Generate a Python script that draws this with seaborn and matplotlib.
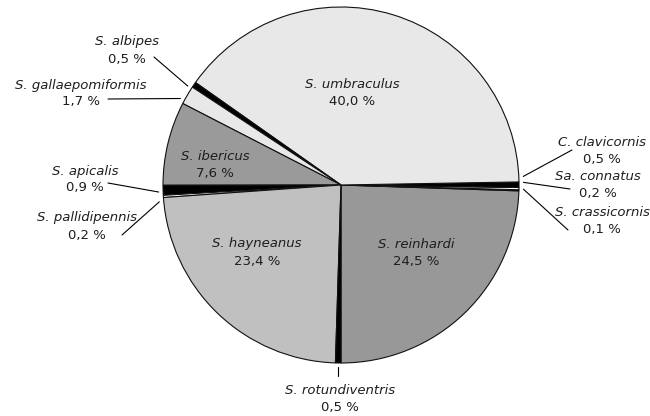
import numpy as np
import matplotlib
matplotlib.use("Agg")
import matplotlib.pyplot as plt
import seaborn as sns

# Species shares (%), listed counterclockwise starting at the bottom (6 o'clock)
species = ["S. reinhardi", "S. crassicornis", "Sa. connatus", "C. clavicornis",
           "S. umbraculus", "S. albipes", "S. gallaepomiformis", "S. ibericus",
           "S. apicalis", "S. pallidipennis", "S. hayneanus", "S. rotundiventris"]
shares = [24.5, 0.1, 0.2, 0.5, 40.0, 0.5, 1.7, 7.6, 0.9, 0.2, 23.4, 0.5]
fills = ["#989898", "#3a3a3a", "#ffffff", "#000000", "#e8e8e8", "#000000",
         "#e8e8e8", "#9a9a9a", "#000000", "#ffffff", "#c0c0c0", "#000000"]

# label layout, pixels of the 650x416 image: (centre x, y of name, y of percent)
label_pos = {"S. umbraculus": (352, 84, 102), "S. ibericus": (215, 156, 174),
             "S. hayneanus": (257, 244, 262), "S. reinhardi": (416, 244, 262),
             "S. albipes": (127, 42, 60), "S. gallaepomiformis": (81, 86, 102),
             "S. apicalis": (85, 172, 188), "S. pallidipennis": (87, 218, 235),
             "C. clavicornis": (602, 142, 160), "Sa. connatus": (598, 177, 194),
             "S. crassicornis": (602, 213, 230), "S. rotundiventris": (340, 390, 408)}
# leader lines: (outer end x, outer end y, angle offset from wedge middle in deg)
leaders = {"S. albipes": (154, 57, 1.4), "S. gallaepomiformis": (108, 99, 2.0),
           "S. apicalis": (108, 183, 0.5), "S. pallidipennis": (122, 235, 1.6),
           "C. clavicornis": (572, 150, 2.6), "Sa. connatus": (570, 189, 2.0),
           "S. crassicornis": (568, 230, 0.4)}

CX, CY, R = 341, 185, 178
W, H = 650, 416


def to_data(px, py):
    return (px - CX) / R, (CY - py) / R


sns.set_theme(style="white")
plt.rcParams["font.family"] = ["DejaVu Sans"]

fig = plt.figure(figsize=(W / 100, H / 100), dpi=100)
ax = fig.add_axes([0, 0, 1, 1])

wedges, _ = ax.pie(shares, colors=fills, startangle=-90, counterclock=True, radius=1.0,
                   wedgeprops=dict(edgecolor="#111111", linewidth=0.8))
ax.set_aspect("equal")
ax.set_xlim(-CX / R, (W - CX) / R)
ax.set_ylim((CY - H) / R, CY / R)
ax.axis("off")

fs = 9.5
txt = "#1e1e1e"
for name, w, val in zip(species, wedges, shares):
    pct = f"{val:.1f}".replace(".", ",") + " %"
    mid = (w.theta1 + w.theta2) / 2
    cx, y1, y2 = label_pos[name]
    x, ya = to_data(cx, y1)
    _, yb = to_data(cx, y2)
    ax.text(x, ya, name, style="italic", fontsize=fs, ha="center", va="center", color=txt)
    ax.text(x, yb, pct, fontsize=fs, ha="center", va="center", color=txt)
    if name == "S. rotundiventris":
        a = np.deg2rad(mid)
        _, t0 = to_data(0, 367)
        _, t1 = to_data(0, 376)
        ax.plot([np.cos(a), np.cos(a)], [t0, t1], color="black", lw=0.8)
    elif name in leaders:
        lx, ly, off = leaders[name]
        a = np.deg2rad(mid + off)
        ex, ey = to_data(lx, ly)
        r0 = 1.025
        ax.plot([np.cos(a) * r0, ex], [np.sin(a) * r0, ey], color="black", lw=0.8)

fig.savefig("out.png", dpi=100)
